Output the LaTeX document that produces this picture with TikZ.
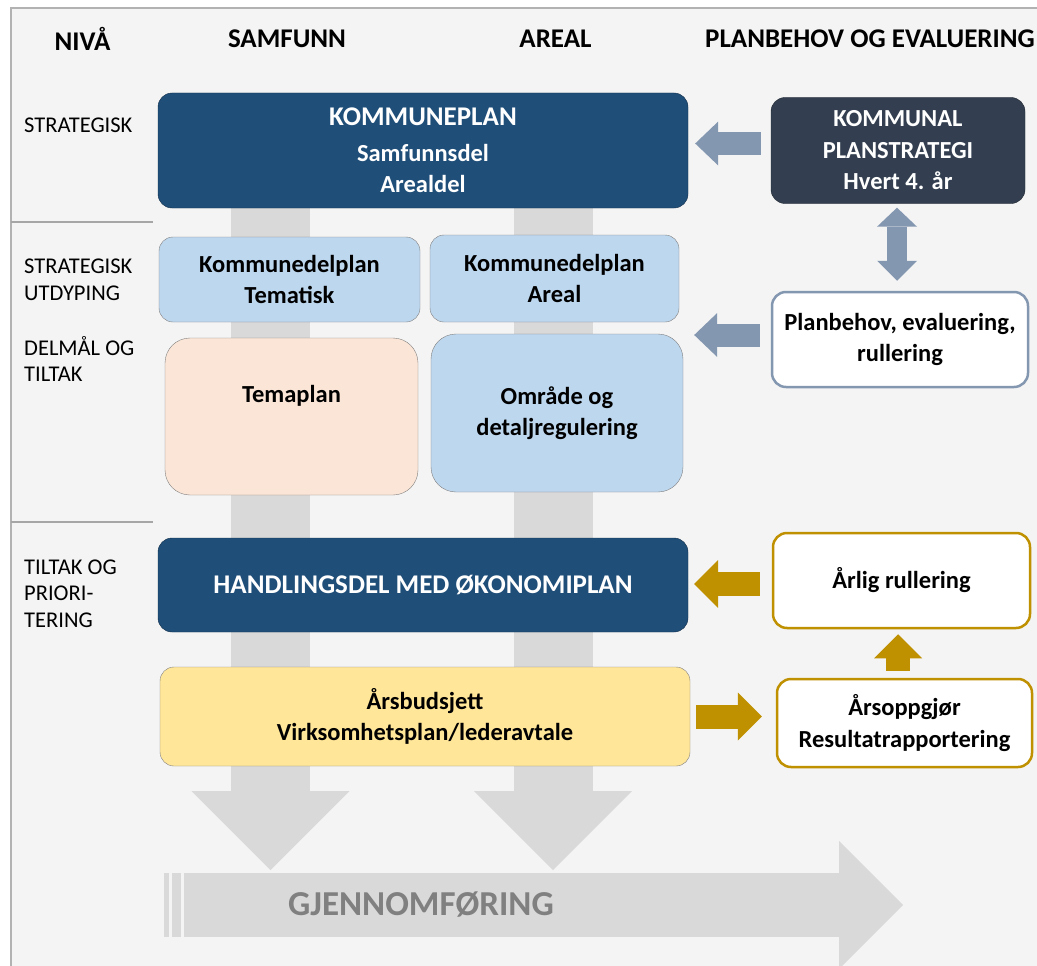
\documentclass[tikz,border=0pt]{standalone}
\usepackage{fontspec}
\setmainfont{Carlito}
\usetikzlibrary{arrows.meta}
\definecolor{kpblue}{HTML}{1F4E79}
\definecolor{slate}{HTML}{333F50}
\definecolor{lightblue}{HTML}{BDD7EE}
\definecolor{peach}{HTML}{FBE5D6}
\definecolor{budget}{HTML}{FFE699}
\definecolor{gold}{HTML}{BF9000}
\definecolor{steel}{HTML}{8497B0}
\definecolor{colgray}{HTML}{D9D9D9}
\definecolor{panel}{HTML}{F4F4F4}

\begin{document}
\begin{tikzpicture}[x=1pt, y=-1pt,
        box/.style={rounded corners=14pt, align=center, inner sep=0pt,
            font=\fontsize{24.5}{31.5}\selectfont\bfseries},
        darkbox/.style={box, fill=#1, draw=#1!60!black, text=white},
        lightbox/.style={box, fill=#1, draw=black!50},
        framebox/.style={box, fill=white, draw=#1, line width=2.5pt},
        level/.style={anchor=base west, align=left, inner sep=0pt,
            font=\fontsize{22.5}{26.5}\selectfont},
        heading/.style={font=\fontsize{27}{30}\selectfont\bfseries},
        steelarrow/.style={steel, line width=23pt,
            -{Triangle[length=23pt, width=44pt, line width=0pt]}},
        goldarrow/.style={gold, line width=24pt,
            -{Triangle[length=24pt, width=48pt, line width=0pt]}},
        colarrow/.style={colgray, line width=79pt,
            -{Triangle[length=79pt, width=158pt, line width=0pt]}}]
    \useasboundingbox (0,0) rectangle (1037,966);
    \fill [white] (0,0) rectangle (1037,966);
    \fill [panel] (11,8) rectangle (1037,966);
    \draw [black!30, line width=1.5pt] (11,966) -- (11,8) -- (1037,8);
    \draw [black!35, line width=1.5pt] (11,222) -- (153,222);
    \draw [black!35, line width=1.5pt] (11,522) -- (153,522);

    % overskrifter
    \node [heading] (hniva) at (82.5,39) {NIVÅ};
    \node [heading] (hsamf) at (287,39) {SAMFUNN};
    \node [heading] (hareal) at (555.5,39) {AREAL};
    \node [heading] (hplan) at (870,39) {PLANBEHOV OG EVALUERING};

    % base = siste linje
    \node [level] (lstrat) at (24,132) {STRATEGISK};
    \node [level] (lutd) at (24,300) {STRATEGISK\\UTDYPING};
    \node [level] (ldelm) at (24,381.5) {DELMÅL OG\\TILTAK};
    \node [level] (ltilt) at (24,627) {TILTAK OG\\PRIORI-\\TERING};

    % gjennomgaende kolonner
    \coordinate (endS) at (270.5,870);
    \coordinate (endA) at (553,870);
    \draw [colarrow] (270.5,150) -- (endS);
    \draw [colarrow] (553,150) -- (endA);

    \coordinate (gjstart) at (184,905);
    \coordinate (gjend) at (903,905);
    \fill [colgray] (164,873) rectangle (169,937);
    \fill [colgray] (172,873) rectangle (181,937);
    \draw [colgray, line width=64pt,
        -{Triangle[length=64pt, width=128pt, line width=0pt]}] (gjstart) -- (gjend);
    \node [anchor=west, inner sep=0pt, text=black!50,
        font=\fontsize{35}{38}\selectfont\bfseries] (gj) at (288,905) {GJENNOMFØRING};

    \node [darkbox=kpblue, minimum width=530pt, minimum height=115pt] (kp) at (423,150.5)
        {{\fontsize{27}{31}\selectfont KOMMUNEPLAN}\\[4pt]Samfunnsdel\\Arealdel};
    \node [darkbox=slate, minimum width=254pt, minimum height=106pt] (kps) at (898,150.5)
        {KOMMUNAL\\PLANSTRATEGI\\Hvert 4. år};

    \node [lightbox=lightblue, minimum width=261pt, minimum height=85pt] (kdpt) at (289.5,279.5)
        {Kommunedelplan\\Tematisk};
    \node [lightbox=lightblue, minimum width=249pt, minimum height=87pt] (kdpa) at (554.5,278.5)
        {Kommunedelplan\\Areal};
    \node [lightbox=peach, rounded corners=25pt, text depth=46pt,
        minimum width=253pt, minimum height=157pt] (tema) at (291.5,416.5) {Temaplan};
    \node [lightbox=lightblue, rounded corners=25pt,
        minimum width=252pt, minimum height=158pt] (omr) at (557,413)
        {Område og\\detaljregulering};
    \node [framebox=steel, minimum width=256pt, minimum height=95pt] (plb) at (900,339.5)
        {Planbehov, evaluering,\\rullering};

    \node [darkbox=kpblue, minimum width=530pt, minimum height=94pt,
        font=\fontsize{27}{31}\selectfont\bfseries] (handl) at (423,585)
        {HANDLINGSDEL MED ØKONOMIPLAN};
    \node [lightbox=budget, minimum width=530pt, minimum height=99pt] (budsj) at (425,716.5)
        {Årsbudsjett\\Virksomhetsplan/lederavtale};
    \node [framebox=gold, minimum width=257pt, minimum height=95pt] (arlig) at (901.5,580.5)
        {Årlig rullering};
    \node [framebox=gold, minimum width=255pt, minimum height=88pt] (arsopp) at (904.5,723)
        {Årsoppgjør\\Resultatrapportering};

    \draw [steelarrow, shorten <=10pt, shorten >=7pt]
        ([yshift=7pt]kps.west) -- ([yshift=7pt]kps.west -| kp.east);
    \draw [steel, line width=20pt, shorten <=4pt, shorten >=10pt,
        {Triangle[length=19pt, width=40pt, line width=0pt]}-{Triangle[length=20pt, width=40pt, line width=0pt]}]
        ([xshift=-1pt]kps.south) -- ([xshift=-1pt]kps.south |- plb.north);
    \draw [steelarrow, shorten <=11pt, shorten >=11pt]
        ([yshift=4.5pt]plb.west) -- ([yshift=4.5pt]plb.west -| omr.east);
    \draw [goldarrow, shorten <=12pt, shorten >=6pt]
        ([yshift=-3.5pt]arlig.west) -- ([yshift=-3.5pt]arlig.west -| handl.east);
    \draw [goldarrow, shorten <=7pt, shorten >=5pt]
        ([xshift=-6.5pt]arsopp.north) -- ([xshift=-6.5pt]arsopp.north |- arlig.south);
    \draw [goldarrow, shorten <=6pt, shorten >=14pt]
        (budsj.east) -- (budsj.east -| arsopp.west);
\end{tikzpicture}
\end{document}
